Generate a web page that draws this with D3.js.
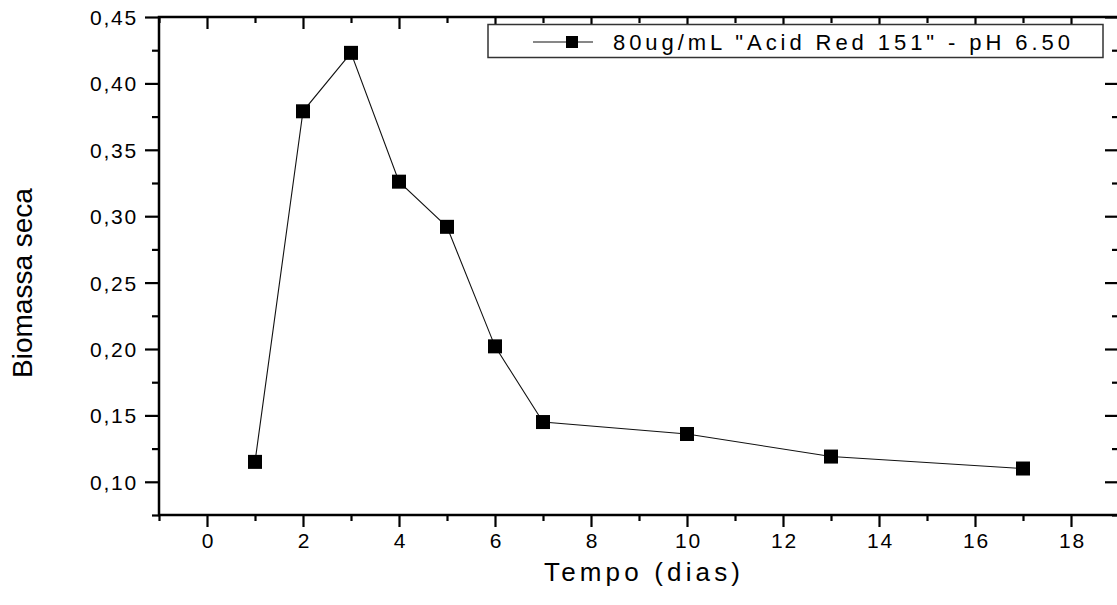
<!DOCTYPE html>
<html>
<head>
<meta charset="utf-8">
<script src="https://cdn.jsdelivr.net/npm/d3@7"></script>
<style>
  html, body { margin: 0; padding: 0; background: #fff; }
  svg { display: block; }
  text { font-family: "Liberation Sans", Arial, sans-serif; fill: #000; }
</style>
</head>
<body>
<svg id="chart" width="1117" height="605"></svg>
<script>
// ---- data ----
const days = [1, 2, 3, 4, 5, 6, 7, 10, 13, 17];
const biomass = [0.115, 0.379, 0.423, 0.326, 0.292, 0.202, 0.145, 0.136, 0.119, 0.110];
const xMajorTicks = [0, 2, 4, 6, 8, 10, 12, 14, 16, 18];
const xMinorTicks = [-1, 1, 3, 5, 7, 9, 11, 13, 15, 17, 19];
const yMajorTicks = [0.10, 0.15, 0.20, 0.25, 0.30, 0.35, 0.40, 0.45];
const yMinorTicks = [0.075, 0.125, 0.175, 0.225, 0.275, 0.325, 0.375, 0.425];
const xTitle = "Tempo (dias)";
const yTitle = "Biomassa seca";
const legendLabel = '80ug/mL "Acid Red 151" - pH 6.50';

// ---- layout ----
const pLeft = 159, pRight = 1119, pTop = 17, pBottom = 515;
const svg = d3.select("#chart");
const x = d3.scaleLinear().domain([-1, 19]).range([pLeft, pRight]);
const y = d3.scaleLinear().domain([0.075, 0.45]).range([pBottom, pTop]);
const fmtY = v => d3.format(".2f")(v).replace(".", ",");

function styleAxis(g) {
  g.selectAll(".domain").remove();
  g.selectAll(".tick line").attr("stroke", "#000").attr("stroke-width", 2.2);
  g.selectAll(".tick text").style("font-size", "21px").style("letter-spacing", "1.8px");
}

// bottom axis
svg.append("g").attr("transform", `translate(0,${pBottom})`)
  .call(d3.axisBottom(x).tickValues(xMinorTicks).tickSize(6).tickFormat(""))
  .call(styleAxis);
svg.append("g").attr("transform", `translate(0,${pBottom})`)
  .call(d3.axisBottom(x).tickValues(xMajorTicks).tickSize(12).tickPadding(6).tickFormat(d3.format("d")))
  .call(styleAxis)
  .selectAll(".tick text").attr("dx", "1px");

// left axis
svg.append("g").attr("transform", `translate(${pLeft},0)`)
  .call(d3.axisLeft(y).tickValues(yMinorTicks).tickSize(7).tickFormat(""))
  .call(styleAxis);
svg.append("g").attr("transform", `translate(${pLeft},0)`)
  .call(d3.axisLeft(y).tickValues(yMajorTicks).tickSize(14).tickPadding(9).tickFormat(fmtY))
  .call(styleAxis)
  .selectAll(".tick text").attr("dx", "2px").attr("dy", "0.36em");

// top axis (ticks inward)
svg.append("g").attr("transform", `translate(0,${pTop})`)
  .call(d3.axisBottom(x).tickValues(xMinorTicks).tickSize(6).tickFormat(""))
  .call(styleAxis);
svg.append("g").attr("transform", `translate(0,${pTop})`)
  .call(d3.axisBottom(x).tickValues(xMajorTicks).tickSize(12).tickFormat(""))
  .call(styleAxis);

// right axis (ticks inward)
svg.append("g").attr("transform", `translate(${pRight},0)`)
  .call(d3.axisLeft(y).tickValues(yMinorTicks).tickSize(7).tickFormat(""))
  .call(styleAxis);
svg.append("g").attr("transform", `translate(${pRight},0)`)
  .call(d3.axisLeft(y).tickValues(yMajorTicks).tickSize(14).tickFormat(""))
  .call(styleAxis);

// frame lines
svg.append("rect").attr("x", pLeft).attr("y", pTop)
  .attr("width", pRight - pLeft).attr("height", pBottom - pTop)
  .attr("fill", "none").attr("stroke", "#000").attr("stroke-width", 2.5);

// data line
const pts = days.map((d, i) => [d, biomass[i]]);
svg.append("path").datum(pts)
  .attr("fill", "none").attr("stroke", "#111").attr("stroke-width", 1.1)
  .attr("d", d3.line().x(d => x(d[0])).y(d => y(d[1])));

// markers
const ms = 14;
svg.append("g").selectAll("rect").data(pts).join("rect")
  .attr("x", d => x(d[0]) - ms / 2).attr("y", d => y(d[1]) - ms / 2)
  .attr("width", ms).attr("height", ms).attr("fill", "#000");

// axis titles
svg.append("text").attr("x", 642).attr("y", 581).attr("text-anchor", "middle")
  .attr("textLength", 196).attr("lengthAdjust", "spacing")
  .style("font-size", "26px").text(xTitle);
svg.append("text").attr("transform", "translate(32,283) rotate(-90)")
  .attr("text-anchor", "middle").style("font-size", "28px").text(yTitle);

// legend
const lg = svg.append("g");
lg.append("rect").attr("x", 488).attr("y", 24.5).attr("width", 615).attr("height", 33)
  .attr("fill", "#fff").attr("stroke", "#333").attr("stroke-width", 1.5);
lg.append("line").attr("x1", 533).attr("x2", 593).attr("y1", 42).attr("y2", 42)
  .attr("stroke", "#111").attr("stroke-width", 1.1);
lg.append("rect").attr("x", 566).attr("y", 36).attr("width", 12).attr("height", 12).attr("fill", "#000");
lg.append("text").attr("x", 613).attr("y", 49.5)
  .attr("textLength", 457).attr("lengthAdjust", "spacing")
  .style("font-size", "22px").text(legendLabel);
</script>
</body>
</html>
